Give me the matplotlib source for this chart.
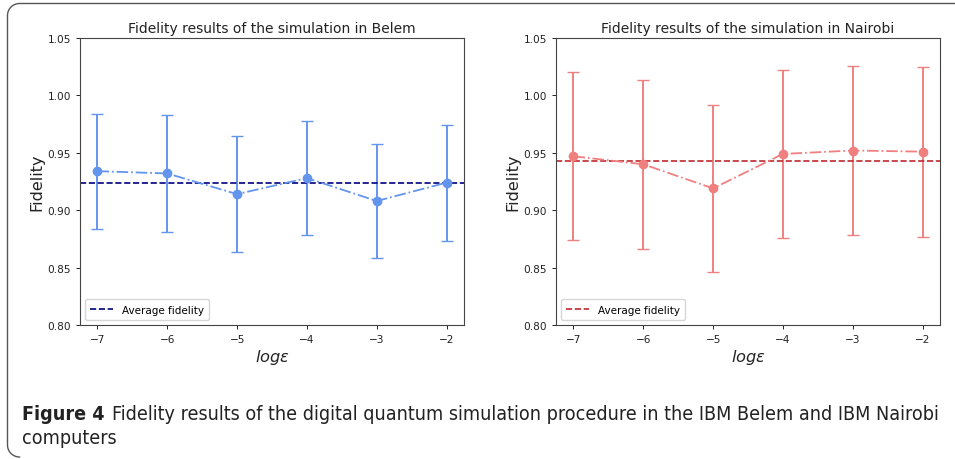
import numpy as np
import matplotlib
matplotlib.use('Agg')
import matplotlib.pyplot as plt

# log(epsilon) values
log_eps = [-7, -6, -5, -4, -3, -2]

# Belem results
belem_fid = [0.934, 0.932, 0.914, 0.928, 0.908, 0.924]
belem_err = [0.050, 0.051, 0.0505, 0.050, 0.050, 0.0505]

# Nairobi results
nairobi_fid = [0.947, 0.940, 0.919, 0.949, 0.952, 0.951]
nairobi_err = [0.073, 0.0735, 0.0725, 0.0735, 0.074, 0.074]

fig = plt.figure(figsize=(9.55, 4.6), dpi=100)

# rounded frame around the figure, drawn in pixel coords on a background axes
bg = fig.add_axes([0, 0, 1, 1], zorder=-1)
bg.set_xlim(0, 955)
bg.set_ylim(460, 0)
bg.axis('off')
r = 12
cx, cy_top, cy_bot = 7.5 + r, 4.5 + r, 458 - r
arc1 = np.linspace(1.5 * np.pi, np.pi, 20)   # top-left corner
arc2 = np.linspace(np.pi, 0.5 * np.pi, 20)   # bottom-left corner
px = np.concatenate([[960], cx + r * np.cos(arc1), cx + r * np.cos(arc2)])
py = np.concatenate([[4.5], cy_top + r * np.sin(arc1), cy_bot + r * np.sin(arc2)])
bg.plot(px, py, color='#555555', linewidth=1.0)

def panel(ax, fid, err, color, avg_color, title):
    ax.errorbar(log_eps, fid, yerr=err, fmt='o-.', color=color, ecolor=color,
                capsize=4, markersize=6, linewidth=1.3, elinewidth=1.4)
    ax.axhline(np.mean(fid), color=avg_color, linestyle='--', linewidth=1.2,
               label='Average fidelity')
    ax.set_ylim(0.80, 1.05)
    ax.set_xlim(-7.25, -1.75)
    ax.set_xticks(log_eps)
    ax.set_xticklabels(['\u22127', '\u22126', '\u22125', '\u22124', '\u22123', '\u22122'])
    ax.set_yticks([0.80, 0.85, 0.90, 0.95, 1.00, 1.05])
    ax.tick_params(labelsize=7.6, length=3, width=0.7, colors='#222222')
    for s in ax.spines.values():
        s.set_linewidth(0.8)
        s.set_color('#444444')
    ax.set_title(title, fontsize=10, color='#222222', pad=4)
    ax.set_ylabel('Fidelity', fontsize=11.5, color='#222222', labelpad=2)
    ax.set_xlabel(r'$log\epsilon$', fontsize=11.7, color='#222222', labelpad=2)
    ax.legend(loc='lower left', fontsize=7.5, handlelength=2.2, borderpad=0.5)

ax1 = fig.add_axes([80 / 955, 1 - 326 / 460, 384 / 955, 287 / 460])
panel(ax1, belem_fid, belem_err, 'cornflowerblue', 'navy',
      'Fidelity results of the simulation in Belem')

ax2 = fig.add_axes([556 / 955, 1 - 326 / 460, 384 / 955, 287 / 460])
panel(ax2, nairobi_fid, nairobi_err, 'lightcoral', '#c0282d',
      'Fidelity results of the simulation in Nairobi')

cap = dict(fontsize=14.1, family='DejaVu Sans', stretch='condensed', va='center',
           color='#222222')
fig.text(22 / 955, 1 - 415 / 460, 'Figure 4', fontweight='bold', **cap)
fig.text(112 / 955, 1 - 415 / 460,
         'Fidelity results of the digital quantum simulation procedure in the IBM Belem and IBM Nairobi',
         **cap)
fig.text(22 / 955, 1 - 438 / 460, 'computers', **cap)

fig.savefig('out.png', dpi=100)
